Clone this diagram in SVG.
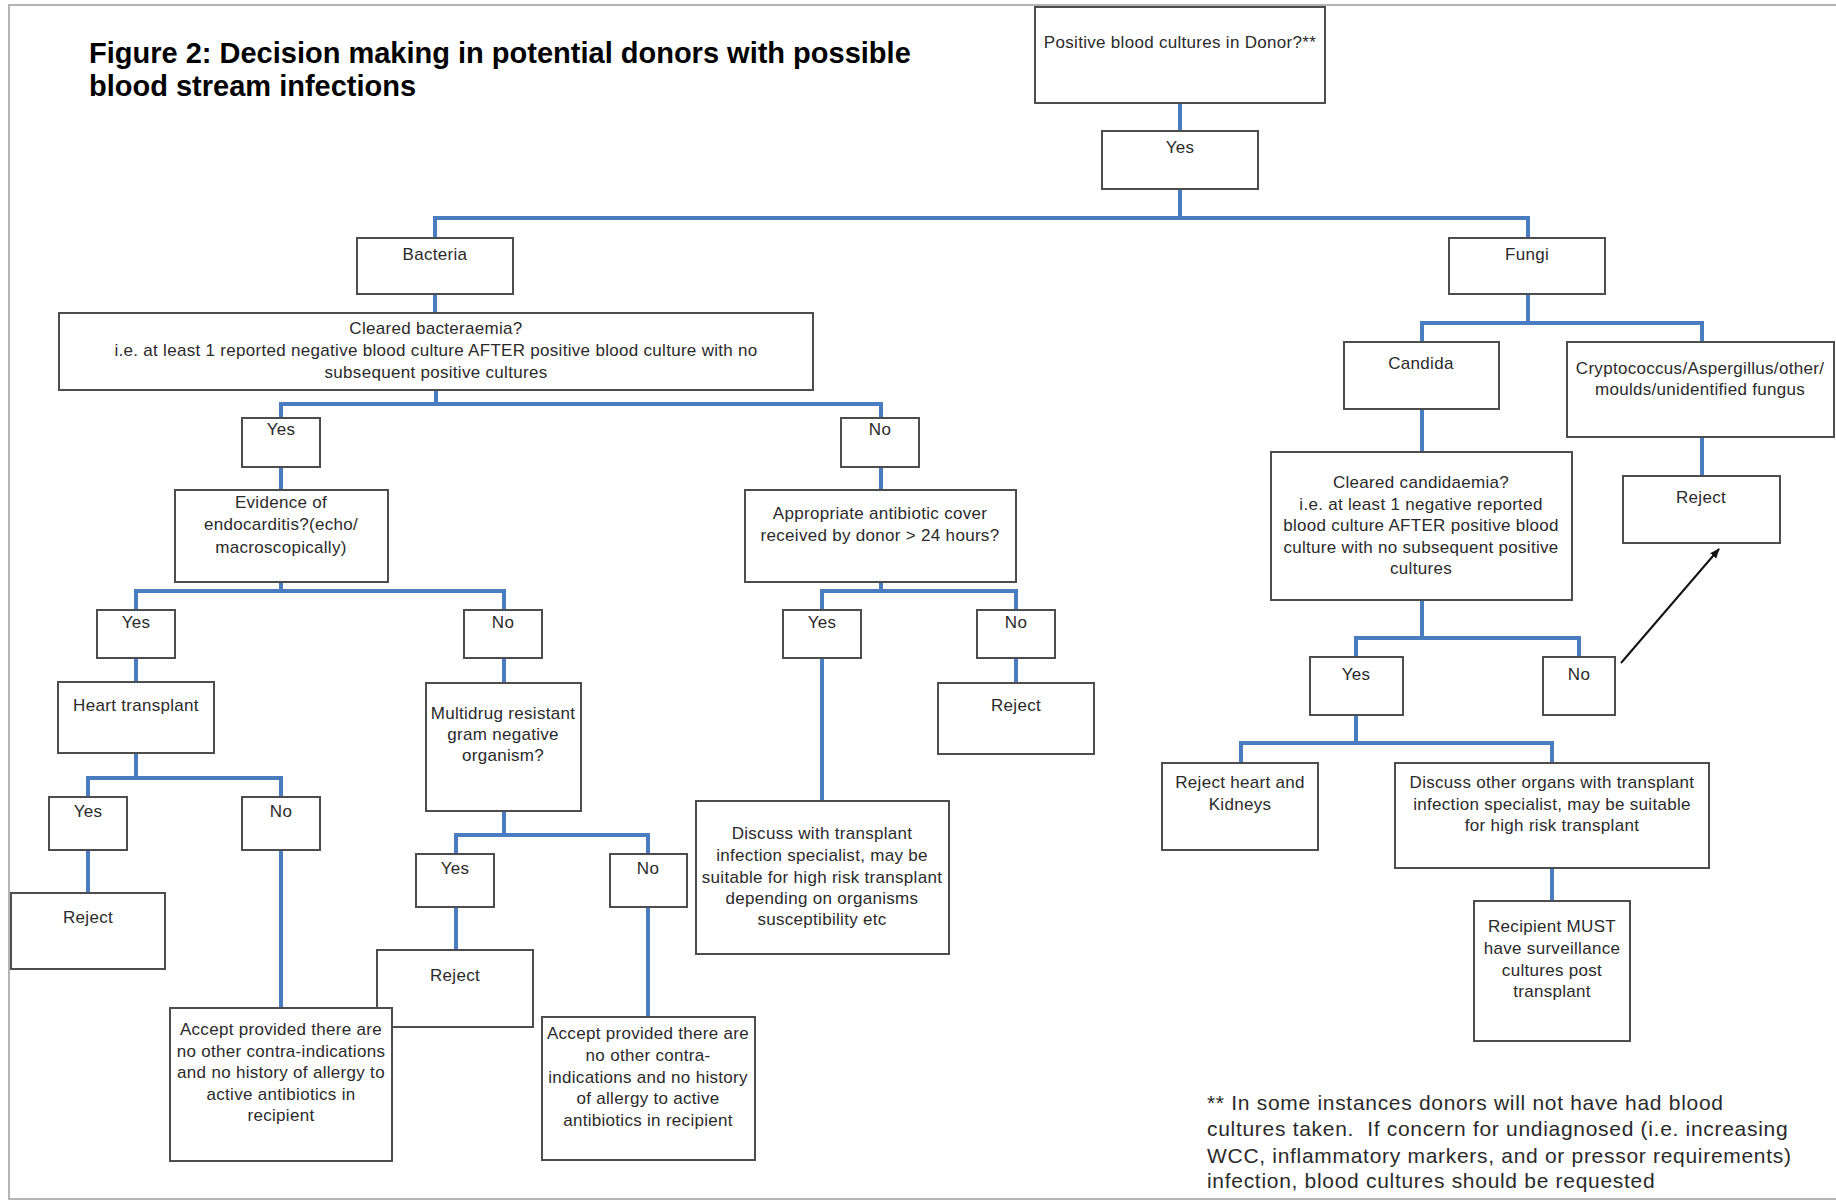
<svg xmlns="http://www.w3.org/2000/svg" width="1836" height="1203" viewBox="0 0 1836 1203">
<defs>
<style>
.bx{fill:#fff;stroke:#4d4d4d;stroke-width:2}
.t{font-family:"Liberation Sans",Arial,sans-serif;font-size:17px;fill:#2a2a2a;text-anchor:middle;letter-spacing:0.3px}
.c{stroke:#4a7cc0;stroke-width:4;fill:none;stroke-linecap:square}
.title{font-family:"Liberation Sans",Arial,sans-serif;font-size:29px;font-weight:bold;fill:#000}
.fn{font-family:"Liberation Sans",Arial,sans-serif;font-size:21px;fill:#2a2a2a;letter-spacing:0.7px}
</style>
<marker id="ah" viewBox="0 0 10 10" refX="9" refY="5" markerWidth="10" markerHeight="10" markerUnits="userSpaceOnUse" orient="auto">
<path d="M0,1 L10,5 L0,9 z" fill="#111"/>
</marker>
</defs>
<rect x="0" y="0" width="1836" height="1203" fill="#fff"/>
<rect x="9" y="5" width="1840" height="1194" fill="none" stroke="#b4b4b4" stroke-width="2"/>
<text class="title" x="89" y="63">Figure 2: Decision making in potential donors with possible</text>
<text class="title" x="89" y="96">blood stream infections</text>

<g id="connectors">
<path class="c" d="M1180,103V131M1180,189V218M435,218H1528M435,218V238M1528,218V238"/>
<path class="c" d="M435,294V313M436,390V404M281,404H881M281,404V418M881,404V418"/>
<path class="c" d="M281,467V490M881,467V490"/>
<path class="c" d="M281,582V591M136,591H504M136,591V610M504,591V610"/>
<path class="c" d="M881,582V591M822,591H1016M822,591V610M1016,591V610"/>
<path class="c" d="M136,658V682M504,658V683M822,658V801M1016,658V683"/>
<path class="c" d="M136,753V778M88,778H281M88,778V797M281,778V797"/>
<path class="c" d="M504,811V835M456,835H648M456,835V854M648,835V854"/>
<path class="c" d="M88,850V893M281,850V1008M456,907V950M648,907V1017"/>
<path class="c" d="M1528,294V323M1422,323H1702M1422,323V342M1702,323V342"/>
<path class="c" d="M1422,409V452M1702,437V476"/>
<path class="c" d="M1422,600V638M1356,638H1579M1356,638V657M1579,638V657"/>
<path class="c" d="M1356,715V743M1241,743H1552M1241,743V763M1552,743V763"/>
<path class="c" d="M1552,868V901"/>
<line x1="1621" y1="663" x2="1719" y2="549" stroke="#111" stroke-width="2" marker-end="url(#ah)"/>
</g>

<g id="n1"><rect class="bx" x="1035" y="7" width="290" height="96"/><text class="t" x="1180" y="48">Positive blood cultures in Donor?**</text></g>
<g id="n2"><rect class="bx" x="1102" y="131" width="156" height="58"/><text class="t" x="1180" y="153">Yes</text></g>
<g id="n3"><rect class="bx" x="357" y="238" width="156" height="56"/><text class="t" x="435" y="260">Bacteria</text></g>
<g id="n4"><rect class="bx" x="1449" y="238" width="156" height="56"/><text class="t" x="1527" y="260">Fungi</text></g>
<g id="n5"><rect class="bx" x="59" y="313" width="754" height="77"/>
<text class="t" x="436" y="334">Cleared bacteraemia?</text>
<text class="t" x="436" y="356">i.e. at least 1 reported negative blood culture AFTER positive blood culture with no</text>
<text class="t" x="436" y="378">subsequent positive cultures</text></g>
<g id="n6"><rect class="bx" x="1344" y="342" width="155" height="67"/><text class="t" x="1421" y="369">Candida</text></g>
<g id="n7"><rect class="bx" x="1567" y="342" width="267" height="95"/>
<text class="t" x="1700" y="374">Cryptococcus/Aspergillus/other/</text>
<text class="t" x="1700" y="395">moulds/unidentified fungus</text></g>
<g id="n8"><rect class="bx" x="1623" y="476" width="157" height="67"/><text class="t" x="1701" y="503">Reject</text></g>
<g id="n9"><rect class="bx" x="1271" y="452" width="301" height="148"/>
<text class="t" x="1421" y="488">Cleared candidaemia?</text>
<text class="t" x="1421" y="509.5">i.e. at least 1 negative reported</text>
<text class="t" x="1421" y="531">blood culture AFTER positive blood</text>
<text class="t" x="1421" y="552.5">culture with no subsequent positive</text>
<text class="t" x="1421" y="574">cultures</text></g>
<g id="n10"><rect class="bx" x="1310" y="657" width="93" height="58"/><text class="t" x="1356" y="680">Yes</text></g>
<g id="n11"><rect class="bx" x="1543" y="657" width="72" height="58"/><text class="t" x="1579" y="680">No</text></g>
<g id="n12"><rect class="bx" x="1162" y="763" width="156" height="87"/>
<text class="t" x="1240" y="788">Reject heart and</text>
<text class="t" x="1240" y="810">Kidneys</text></g>
<g id="n13"><rect class="bx" x="1395" y="763" width="314" height="105"/>
<text class="t" x="1552" y="788">Discuss other organs with transplant</text>
<text class="t" x="1552" y="809.5">infection specialist, may be suitable</text>
<text class="t" x="1552" y="831">for high risk transplant</text></g>
<g id="n14"><rect class="bx" x="1474" y="901" width="156" height="140"/>
<text class="t" x="1552" y="932">Recipient MUST</text>
<text class="t" x="1552" y="954">have surveillance</text>
<text class="t" x="1552" y="976">cultures post</text>
<text class="t" x="1552" y="997">transplant</text></g>
<g id="n15"><rect class="bx" x="242" y="418" width="78" height="49"/><text class="t" x="281" y="435">Yes</text></g>
<g id="n16"><rect class="bx" x="841" y="418" width="78" height="49"/><text class="t" x="880" y="435">No</text></g>
<g id="n17"><rect class="bx" x="175" y="490" width="213" height="92"/>
<text class="t" x="281" y="508">Evidence of</text>
<text class="t" x="281" y="530">endocarditis?(echo/</text>
<text class="t" x="281" y="553">macroscopically)</text></g>
<g id="n18"><rect class="bx" x="745" y="490" width="271" height="92"/>
<text class="t" x="880" y="519">Appropriate antibiotic cover</text>
<text class="t" x="880" y="541">received by donor &gt; 24 hours?</text></g>
<g id="n19"><rect class="bx" x="97" y="610" width="78" height="48"/><text class="t" x="136" y="628">Yes</text></g>
<g id="n20"><rect class="bx" x="464" y="610" width="78" height="48"/><text class="t" x="503" y="628">No</text></g>
<g id="n21"><rect class="bx" x="783" y="610" width="78" height="48"/><text class="t" x="822" y="628">Yes</text></g>
<g id="n22"><rect class="bx" x="977" y="610" width="78" height="48"/><text class="t" x="1016" y="628">No</text></g>
<g id="n23"><rect class="bx" x="58" y="682" width="156" height="71"/><text class="t" x="136" y="711">Heart transplant</text></g>
<g id="n24"><rect class="bx" x="426" y="683" width="155" height="128"/>
<text class="t" x="503" y="719">Multidrug resistant</text>
<text class="t" x="503" y="740">gram negative</text>
<text class="t" x="503" y="761">organism?</text></g>
<g id="n25"><rect class="bx" x="938" y="683" width="156" height="71"/><text class="t" x="1016" y="711">Reject</text></g>
<g id="n26"><rect class="bx" x="696" y="801" width="253" height="153"/>
<text class="t" x="822" y="839">Discuss with transplant</text>
<text class="t" x="822" y="861">infection specialist, may be</text>
<text class="t" x="822" y="883">suitable for high risk transplant</text>
<text class="t" x="822" y="904">depending on organisms</text>
<text class="t" x="822" y="925">susceptibility etc</text></g>
<g id="n27"><rect class="bx" x="49" y="797" width="78" height="53"/><text class="t" x="88" y="817">Yes</text></g>
<g id="n28"><rect class="bx" x="242" y="797" width="78" height="53"/><text class="t" x="281" y="817">No</text></g>
<g id="n29"><rect class="bx" x="416" y="854" width="78" height="53"/><text class="t" x="455" y="874">Yes</text></g>
<g id="n30"><rect class="bx" x="610" y="854" width="77" height="53"/><text class="t" x="648" y="874">No</text></g>
<g id="n31"><rect class="bx" x="11" y="893" width="154" height="76"/><text class="t" x="88" y="923">Reject</text></g>
<g id="n32"><rect class="bx" x="377" y="950" width="156" height="77"/><text class="t" x="455" y="981">Reject</text></g>
<g id="n33"><rect class="bx" x="170" y="1008" width="222" height="153"/>
<text class="t" x="281" y="1035">Accept provided there are</text>
<text class="t" x="281" y="1056.5">no other contra-indications</text>
<text class="t" x="281" y="1078">and no history of allergy to</text>
<text class="t" x="281" y="1099.5">active antibiotics in</text>
<text class="t" x="281" y="1121">recipient</text></g>
<g id="n34"><rect class="bx" x="542" y="1017" width="213" height="143"/>
<text class="t" x="648" y="1039">Accept provided there are</text>
<text class="t" x="648" y="1061">no other contra-</text>
<text class="t" x="648" y="1083">indications and no history</text>
<text class="t" x="648" y="1104">of allergy to active</text>
<text class="t" x="648" y="1126">antibiotics in recipient</text></g>

<g id="footnote">
<text class="fn" x="1207" y="1110">** In some instances donors will not have had blood</text>
<text class="fn" x="1207" y="1136">cultures taken.&#160; If concern for undiagnosed (i.e. increasing</text>
<text class="fn" x="1207" y="1163">WCC, inflammatory markers, and or pressor requirements)</text>
<text class="fn" x="1207" y="1188">infection, blood cultures should be requested</text>
</g>
</svg>
